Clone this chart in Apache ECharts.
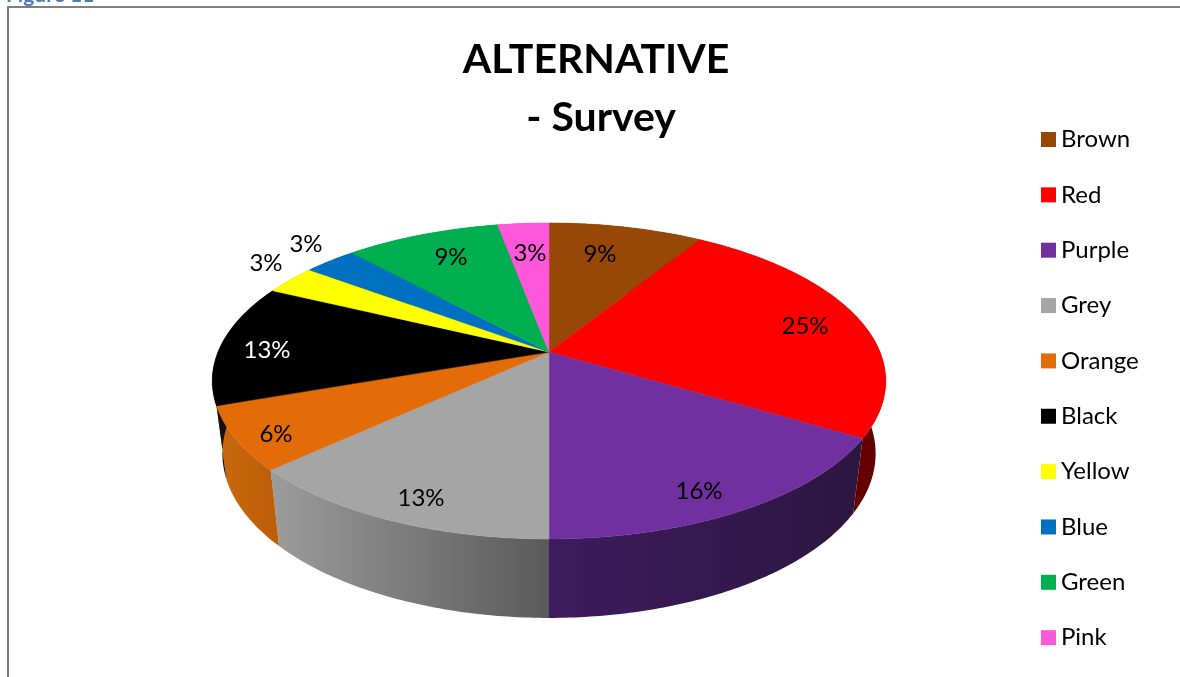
<!DOCTYPE html>
<html>
<head>
<meta charset="utf-8">
<style>html,body{margin:0;padding:0;background:#fff}#c{width:1180px;height:677px}</style>
<script src="https://cdn.jsdelivr.net/npm/echarts@6/dist/echarts.min.js"></script>
</head>
<body>
<div id="c"></div>
<script>
// Data: survey counts (out of 32) and the rounded percentages printed on the slices
const categories = ['Brown','Red','Purple','Grey','Orange','Black','Yellow','Blue','Green','Pink'];
const counts     = [3,8,5,4,2,4,1,1,3,1];
const percentLabels = ['9%','25%','16%','13%','6%','13%','3%','3%','9%','3%'];

// Styles
const colors = ['#974706','#ff0000','#7030a0','#a5a5a5','#e36c09','#000000','#ffff00','#0070c0','#00b050','#ff57d9'];
const wallLeft  = ['#5c2b04','#6a0000','#3e1b5e','#9c9c9c','#c96a0c','#111111','#999900','#004a80','#006a30','#993383'];
const wallRight = ['#5c2b04','#640000','#2c1640','#5a5a5a','#bd5c08','#111111','#999900','#004a80','#006a30','#993383'];
const labelColors = ['#000','#000','#000','#000','#000','#fff','#000','#000','#000','#000'];

// Layout
const labelX = [600,805,699,421,276,267,266,306,451,530];
const labelY = [254,326,491,498,434,350,263,244,257,253];
const apex = {x:549, y:352}, A = 331, B = 152.7, K = 0.1835, WARP = 0.06;
const total = counts.reduce((a,b)=>a+b,0);
const starts = counts.map((_,i)=>counts.slice(0,i).reduce((a,b)=>a+b,0));

// perspective projection of the pie plane
function topPoint(angle){
  const theta = angle - WARP*Math.sin(angle);
  const u = Math.sin(theta), v = -Math.cos(theta), w = 1 - K*v;
  return [apex.x + A*u/w, apex.y + B*v/w];
}
function basePoint(p){
  return [apex.x + (p[0]-apex.x)*0.97, p[1] + 75 + (p[1]-442)*0.04];
}
function arcPoints(c0,c1){
  const a0 = c0/total*2*Math.PI, a1 = (c0+c1)/total*2*Math.PI, n = Math.max(8,Math.round(c1*16)), pts=[];
  for(let i=0;i<=n;i++) pts.push(topPoint(a0+(a1-a0)*i/n));
  return pts;
}

const series = categories.map((name,i)=>({
  type:'custom', name, coordinateSystem:'cartesian2d',
  itemStyle:{color:colors[i]},
  clip:false, silent:true,
  encode:{x:0,y:1},
  data:[[starts[i],counts[i]]],
  renderItem(params,api){
    const arc = arcPoints(api.value(0),api.value(1));
    const c = p=>api.coord(p);
    const wall = arc.concat(arc.slice().reverse().map(basePoint)).map(c);
    const face = [[apex.x,apex.y]].concat(arc).map(c);
    const label = c([labelX[i],labelY[i]]);
    return {type:'group',children:[
      {type:'polygon',z2:1,shape:{points:wall},style:{
        fill:new echarts.graphic.LinearGradient(0,0,1,0,[{offset:0,color:wallLeft[i]},{offset:1,color:wallRight[i]}])}},
      {type:'polygon',z2:10,shape:{points:face},style:{fill:colors[i],stroke:colors[i],lineWidth:0.5}},
      {type:'text',z2:20,x:label[0],y:label[1],style:{text:percentLabels[i],fill:labelColors[i],
        font:'24px Lato, "Open Sans", sans-serif',align:'center',verticalAlign:'middle'}}
    ]};
  }
}));

const chart = echarts.init(document.getElementById('c'),null,{renderer:'canvas'});
chart.setOption({
  animation:false,
  backgroundColor:'#fff',
  grid:{left:0,right:0,top:0,bottom:0},
  xAxis:{type:'value',min:0,max:1180,show:false},
  yAxis:{type:'value',min:0,max:677,inverse:true,show:false},
  title:{text:'ALTERNATIVE\n - Survey',left:591,top:26,textAlign:'center',
    textStyle:{fontFamily:'Lato, sans-serif',fontWeight:'bold',fontSize:41,lineHeight:58,color:'#000'}},
  legend:{orient:'vertical',left:1041,top:127.5,icon:'rect',itemWidth:15,itemHeight:15,itemGap:31.35,
    padding:0,selectedMode:false,data:categories,
    textStyle:{fontFamily:'Lato, sans-serif',fontSize:24,color:'#000',padding:0}},
  graphic:[
    {type:'polyline',silent:true,shape:{points:[[8,677],[8,7],[1180,7]]},style:{stroke:'#808080',lineWidth:2,fill:null}},
    {type:'text',silent:true,x:6,y:-15,style:{text:'Figure 11',fill:'#4a7ebb',font:'bold 21px Lato, sans-serif'}}
  ],
  series
});
</script>
</body>
</html>
